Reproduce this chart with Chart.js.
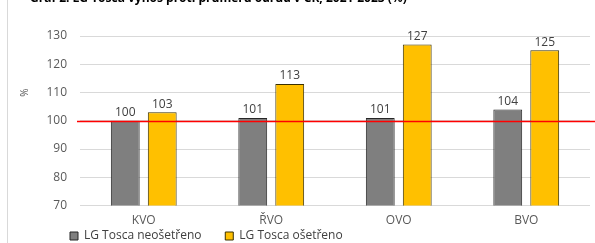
<!DOCTYPE html>
<html>
<head>
<meta charset="utf-8">
<script src="https://cdn.jsdelivr.net/npm/chart.js@4"></script>
<style>
  html, body { margin: 0; padding: 0; background: #fff; overflow: hidden; }
  #wrap { width: 595px; height: 243px; position: relative; }
</style>
</head>
<body>
<div id="wrap"><canvas id="barCanvas" width="595" height="243"></canvas></div>
<script>
// data
var categories = ["KVO", "ŘVO", "OVO", "BVO"];
var untreated = [100, 101, 101, 104];	// LG Tosca neošetřeno
var treated = [103, 113, 127, 125];	// LG Tosca ošetřeno
var seriesNames = ["LG Tosca neošetřeno", "LG Tosca ošetřeno"];
var yTicks = [70, 80, 90, 100, 110, 120, 130];
var refValue = 100;
var titleText = "Graf 2: LG Tosca výnos proti průměru odrůd v ČR, 2021-2023 (%)";

var FONT = "'Open Sans', sans-serif";

var extras = {	// frame line, title, red 100 line, % label, value labels
	id: 'extras',
	afterLayout: function(chart) {
		chart.legend.left = 68;
	},
	beforeDraw: function(chart) {
		var c = chart.ctx;
		c.save();
		c.strokeStyle = '#d9d9d9';
		c.lineWidth = 1;
		c.beginPath();
		c.moveTo(7.5, 0);
		c.lineTo(7.5, chart.height);
		c.stroke();
		c.fillStyle = '#000';
		c.font = 'bold 12px ' + FONT;
		c.textBaseline = 'middle';
		c.fillText(titleText, 30, -1);
		c.restore();
	},
	afterDatasetsDraw: function(chart) {
		var c = chart.ctx;
		var y = chart.scales.y;
		var py = Math.round(y.getPixelForValue(refValue)) + 0.5;
		c.save();
		c.strokeStyle = '#ff0000';
		c.lineWidth = 1.5;
		c.beginPath();
		c.moveTo(chart.chartArea.left - 3, py);
		c.lineTo(chart.width, py);
		c.stroke();

		c.fillStyle = '#595959';
		c.font = '10px ' + FONT;
		c.textAlign = 'center';
		c.textBaseline = 'middle';
		c.translate(25, y.getPixelForValue(110));
		c.rotate(-Math.PI / 2);
		c.fillText('%', 0, 0);
		c.restore();

		c.save();
		c.fillStyle = '#404040';
		c.font = '12px ' + FONT;
		c.textAlign = 'center';
		c.textBaseline = 'bottom';
		chart.data.datasets.forEach(function(ds, i) {
			chart.getDatasetMeta(i).data.forEach(function(bar, j) {
				c.fillText(ds.data[j], bar.x, bar.y - 2);
			});
		});
		c.restore();
	}
};

var ctx = document.getElementById("barCanvas").getContext("2d");

new Chart(ctx, {
	type: 'bar',
	data: {
		labels: categories,
		datasets: [
			{
				label: seriesNames[0],
				data: untreated,
				backgroundColor: "#7f7f7f",
				borderColor: "#262626",
				borderWidth: 1
			},
			{
				label: seriesNames[1],
				data: treated,
				backgroundColor: "#ffc000",
				borderColor: "#3a3000",
				borderWidth: 1
			}
		]
	},
	options: {
		responsive: false,
		animation: false,
		layout: { padding: { left: 8, right: 5, top: 36, bottom: -9 } },
		datasets: {
			bar: { categoryPercentage: 0.58, barPercentage: 0.78 }
		},
		plugins: {
			legend: {
				position: 'bottom',
				align: 'start',
				labels: {
					boxWidth: 8,
					boxHeight: 8,
					padding: 2,
					color: '#404040',
					font: { family: FONT, size: 12 },
					generateLabels: function(chart) {
						var items = Chart.defaults.plugins.legend.labels.generateLabels(chart);
						items.forEach(function(it) { it.text = it.text + '       '; });
						return items;
					}
				}
			},
			tooltip: { enabled: false }
		},
		scales: {
			x: {
				grid: { display: false },
				border: { display: false },
				ticks: { color: '#595959', padding: 0, font: { family: FONT, size: 12 } }
			},
			y: {
				min: 70,
				max: 130,
				afterFit: function(scale) { scale.width = 72; },
				afterBuildTicks: function(scale) {
					scale.ticks = yTicks.map(function(v) { return { value: v }; });
				},
				grid: { color: '#d9d9d9', drawTicks: false },
				border: { display: false },
				ticks: { color: '#595959', padding: 13, font: { family: FONT, size: 12 } }
			}
		}
	},
	plugins: [extras]
});
</script>
</body>
</html>
